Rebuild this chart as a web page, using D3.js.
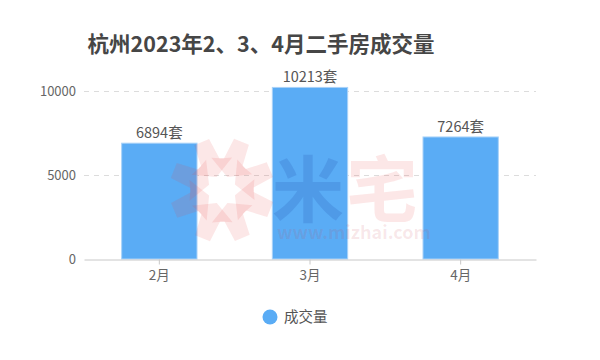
<!DOCTYPE html>
<html>
<head>
<meta charset="utf-8">
<script src="https://cdn.jsdelivr.net/npm/d3@7/dist/d3.min.js"></script>
<style>
  body { margin: 0; background: #fff; }
  #chart text { font-family: "Noto Sans CJK SC", "Noto Sans", sans-serif; }
</style>
</head>
<body>
<div id="chart"></div>
<script>
var categories = ["2月", "3月", "4月"];
var values = [6894, 10213, 7264];
var yTicks = [0, 5000, 10000];
var seriesName = "成交量";
var unit = "套";

render();

function render() {

    var w = 600, h = 360;
    var margin = {top: 91, right: 64, bottom: 101, left: 84};

    var svg = d3.select("#chart").append("svg")
        .attr("width", w)
        .attr("height", h);

    var x = d3.scaleBand()
        .domain(categories)
        .range([margin.left, w - margin.right])
        .paddingInner(0.5)
        .paddingOuter(0.25);

    var y = d3.scaleLinear()
        .domain([0, 10000])
        .range([h - margin.bottom, margin.top]);

    // title
    svg.append("text")
        .attr("x", 261)
        .attr("y", 52)
        .attr("text-anchor", "middle")
        .style("font-size", "21.5px")
        .style("font-weight", "bold")
        .style("fill", "#464646")
        .text("杭州2023年2、3、4月二手房成交量");

    // grid lines
    svg.append("g")
        .selectAll("line")
        .data(yTicks.filter(function (d) { return d > 0; }))
        .enter().append("line")
        .attr("x1", margin.left)
        .attr("x2", w - margin.right)
        .attr("y1", function (d) { return y(d) + 0.5; })
        .attr("y2", function (d) { return y(d) + 0.5; })
        .style("stroke", "#dcdcdc")
        .style("stroke-dasharray", "5,5");

    // y axis labels
    var yAxis = svg.append("g")
        .attr("transform", "translate(" + margin.left + ",0)")
        .call(d3.axisLeft(y).tickValues(yTicks).tickFormat(d3.format("d")).tickSize(0).tickPadding(8));
    yAxis.select(".domain").remove();
    yAxis.selectAll("text")
        .style("font-size", "13px")
        .style("fill", "#666");

    // bars
    svg.append("g")
        .selectAll("rect")
        .data(values)
        .enter().append("rect")
        .attr("x", function (d, i) { return x(categories[i]); })
        .attr("y", function (d) { return y(d); })
        .attr("width", x.bandwidth())
        .attr("height", function (d) { return y(0) - y(d); })
        .style("fill", "#5aacf5")
        .style("stroke", "#a9d2f8")
        .style("stroke-width", 1);

    // watermark (logo)
    var wm = svg.append("g").attr("pointer-events", "none");
    var star = wm.append("g").attr("transform", "translate(222,190)");
    d3.range(8).forEach(function (k) {
        star.append("path")
            .attr("transform", "rotate(" + (k * 45 + 22) + ")")
            .attr("d", "M-8,-52 L8,-52 L10,-30 L22,-26 L0,-14 L-22,-26 L-10,-30 Z")
            .style("fill", "#e84545")
            .style("fill-opacity", 0.13);
    });
    var mark = wm.append("text")
        .style("font-weight", "bold");
    mark.append("tspan")
        .attr("x", 272)
        .attr("y", 216)
        .style("font-size", "72px")
        .style("fill", "#2a5cb8")
        .style("fill-opacity", 0.22)
        .text("米");
    mark.append("tspan")
        .attr("x", 346)
        .attr("y", 216)
        .style("font-size", "72px")
        .style("fill", "#e84545")
        .style("fill-opacity", 0.13)
        .text("宅");
    mark.append("tspan")
        .attr("x", 277)
        .attr("y", 239)
        .style("font-size", "18px")
        .style("fill", "#c84a5a")
        .style("fill-opacity", 0.13)
        .text("www.mizhai.com");

    // value labels
    svg.append("g")
        .selectAll("text")
        .data(values)
        .enter().append("text")
        .attr("x", function (d, i) { return x(categories[i]) + x.bandwidth() / 2; })
        .attr("y", function (d) { return y(d) - 5; })
        .attr("text-anchor", "middle")
        .style("font-size", "14.5px")
        .style("fill", "#555")
        .text(function (d) { return d + unit; });

    // x axis
    var xAxis = svg.append("g")
        .attr("transform", "translate(0," + (y(0) + 0.5) + ")")
        .call(d3.axisBottom(x).tickSize(5).tickPadding(6).tickSizeOuter(0));
    xAxis.select(".domain").style("stroke", "#c8c8c8");
    xAxis.selectAll(".tick line").style("stroke", "#c8c8c8");
    xAxis.selectAll("text")
        .style("font-size", "13.5px")
        .style("fill", "#666");

    // legend
    var legend = svg.append("g").attr("transform", "translate(270,317)");
    legend.append("circle")
        .attr("r", 7.5)
        .style("fill", "#5aacf5");
    legend.append("text")
        .attr("x", 14)
        .attr("y", 5)
        .style("font-size", "14.5px")
        .style("fill", "#555")
        .text(seriesName);
}
</script>
</body>
</html>
